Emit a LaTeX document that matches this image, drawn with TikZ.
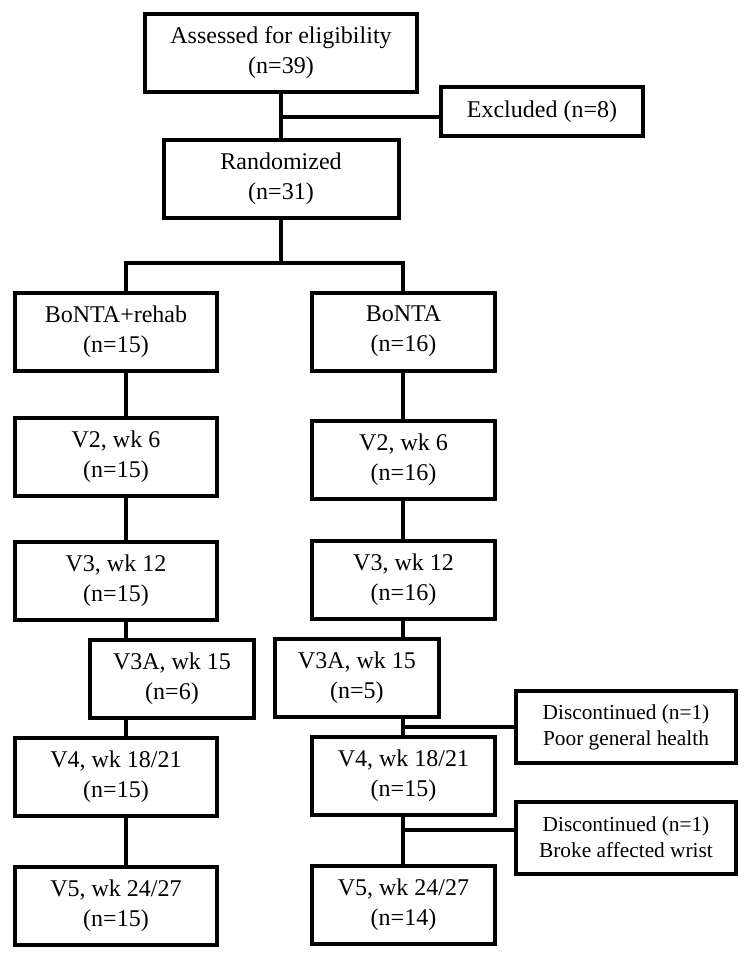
\documentclass[tikz,border=0pt]{standalone}
\usepackage{fontspec}
\setmainfont{Liberation Serif}
\usetikzlibrary{positioning}

\begin{document}
\begin{tikzpicture}[
	x=0.75pt,y=-0.75pt,
	line width=3pt,
	mybox/.style={draw,line width=3pt,align=center,inner sep=0pt,
		minimum height=58.5pt,font=\fontsize{18}{22.5}\selectfont},
	leftbox/.style={mybox,minimum width=151.5pt},
	rightbox/.style={mybox,minimum width=137.25pt},
	extrabox/.style={mybox,minimum width=123pt},
	dropbox/.style={mybox,minimum width=165pt,minimum height=54pt,
		font=\fontsize{16}{19.5}\selectfont}
	]
	\useasboundingbox (0,0) rectangle (746,960);
	% top part
	\node[mybox,minimum width=204pt] (assess) at (281,53) {Assessed for eligibility\\(n=39)};
	\node[mybox,minimum width=176.25pt,below=33pt of assess] (rand) {Randomized\\(n=31)};
	\node[mybox,minimum width=151.5pt,minimum height=36.75pt] (excl) at (542,111.5) {Excluded (n=8)};
	% left arm
	\node[leftbox] (g1) at (116,331.5) {BoNTA+rehab\\(n=15)};
	\node[leftbox,below=32.25pt of g1] (v2l) {V2, wk 6\\(n=15)};
	\node[leftbox,below=31.5pt of v2l] (v3l) {V3, wk 12\\(n=15)};
	\node[extrabox,below=12pt of v3l,xshift=42pt] (v3al) {V3A, wk 15\\(n=6)};
	\node[leftbox,below=12pt of v3al,xshift=-42pt] (v4l) {V4, wk 18/21\\(n=15)};
	\node[leftbox,below=35.25pt of v4l] (v5l) {V5, wk 24/27\\(n=15)};
	% right arm
	\node[rightbox] (g2) at (403.5,331.5) {BoNTA\\(n=16)};
	\node[rightbox,below=34.5pt of g2] (v2r) {V2, wk 6\\(n=16)};
	\node[rightbox,below=28.5pt of v2r] (v3r) {V3, wk 12\\(n=16)};
	\node[extrabox,below=12pt of v3r,xshift=-34.9pt] (v3ar) {V3A, wk 15\\(n=5)};
	\node[rightbox,below=12pt of v3ar,xshift=34.9pt] (v4r) {V4, wk 18/21\\(n=15)};
	\node[rightbox,below=35.25pt of v4r] (v5r) {V5, wk 24/27\\(n=14)};
	% dropouts
	\node[dropbox] (d1) at (626,727) {Discontinued (n=1)\\Poor general health};
	\node[dropbox] (d2) at (626,837.5) {Discontinued (n=1)\\Broke affected wrist};
	% lines
	\coordinate (lx) at (126,0);
	\coordinate (rx) at (403,0);
	\coordinate (split) at (0,263);
	\draw (assess) -- (rand);
	\draw ([yshift=-4pt]assess.south |- excl.west) -- ([yshift=-4pt]excl.west);
	\draw (rand.south) -- (rand.south |- split);
	\draw (lx |- g1.north) -- (lx |- split) -- (rx |- split) -- (rx |- g2.north);
	\foreach \a/\b in {g1/v2l,v2l/v3l,v3l/v3al,v3al/v4l,v4l/v5l}
		\draw (lx |- \a.south) -- (lx |- \b.north);
	\foreach \a/\b in {g2/v2r,v2r/v3r,v3r/v3ar,v3ar/v4r,v4r/v5r}
		\draw (rx |- \a.south) -- (rx |- \b.north);
	\draw (rx |- d1.west) -- (d1.west);
	\draw ([yshift=5.6pt]rx |- d2.west) -- ([yshift=5.6pt]d2.west);
\end{tikzpicture}
\end{document}
